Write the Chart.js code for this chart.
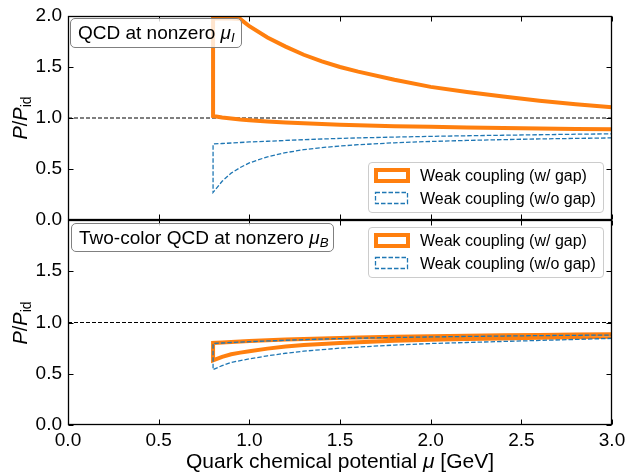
<!DOCTYPE html>
<html>
<head>
<meta charset="utf-8">
<script src="https://cdn.jsdelivr.net/npm/chart.js@4.4.0/dist/chart.umd.min.js"></script>
<style>
  body { margin: 0; background: #fff; font-family: "Liberation Sans", Arial, sans-serif; }
  #figura { position: relative; width: 626px; height: 472px; overflow: hidden; }
  #figura canvas { position: absolute; left: 0; }
  .caixa-painel { position: absolute; background: rgba(255,255,255,0.8); border: 1px solid #808080; border-radius: 5px;
    box-sizing: border-box; font-size: 19px; padding-left: 7px; white-space: nowrap; }
  .legenda { position: absolute; left: 368px; width: 236px; height: 51px; box-sizing: border-box;
    background: rgba(255,255,255,0.8); border: 1px solid #cccccc; border-radius: 4px; }
  .legenda svg { position: absolute; }
  .legenda .texto { position: absolute; left: 51px; font-size: 16px; line-height: 18px; white-space: nowrap; }
  .rotulo-y { position: absolute; left: 21px; font-size: 20px; line-height: 20px; white-space: nowrap;
    transform: translate(-50%, -50%) rotate(-90deg); }
  .rotulo-x { position: absolute; left: 340px; top: 450px; font-size: 21px; line-height: 21px; white-space: nowrap;
    transform: translateX(-50%); }
  .sub { font-size: 0.7em; position: relative; top: 0.25em; }
</style>
</head>
<body>
<div id="figura">
  <canvas id="graficoTopo" width="626" height="232" style="top:0"></canvas>
  <canvas id="graficoBase" width="626" height="264" style="top:208px"></canvas>

  <div class="caixa-painel" style="left:70px; top:18px; width:172px; height:30px; line-height:28px;">QCD at nonzero <i>μ</i><span class="sub"><i>I</i></span></div>
  <div class="caixa-painel" style="left:71px; top:223px; width:263px; height:29px; line-height:27px;">Two-color QCD at nonzero <i>μ</i><span class="sub"><i>B</i></span></div>

  <div class="legenda" style="top:162px">
    <svg width="42" height="20" style="left:3px; top:3px"><rect x="4" y="4" width="32" height="11" fill="none" stroke="#ff7f0e" stroke-width="4"/></svg>
    <svg width="42" height="20" style="left:2px; top:25px"><rect x="4.5" y="4.5" width="32" height="11" fill="none" stroke="#1f77b4" stroke-width="1.3" stroke-dasharray="4.5 2"/></svg>
    <div class="texto" style="top:4px">Weak coupling (w/ gap)</div>
    <div class="texto" style="top:27px">Weak coupling (w/o gap)</div>
  </div>
  <div class="legenda" style="top:227px">
    <svg width="42" height="20" style="left:3px; top:3px"><rect x="4" y="4" width="32" height="11" fill="none" stroke="#ff7f0e" stroke-width="4"/></svg>
    <svg width="42" height="20" style="left:2px; top:25px"><rect x="4.5" y="4.5" width="32" height="11" fill="none" stroke="#1f77b4" stroke-width="1.3" stroke-dasharray="4.5 2"/></svg>
    <div class="texto" style="top:4px">Weak coupling (w/ gap)</div>
    <div class="texto" style="top:27px">Weak coupling (w/o gap)</div>
  </div>

  <div class="rotulo-y" style="top:118px"><i>P</i>/<i>P</i><span class="sub">id</span></div>
  <div class="rotulo-y" style="top:323px"><i>P</i>/<i>P</i><span class="sub">id</span></div>
  <div class="rotulo-x">Quark chemical potential <i>μ</i> [GeV]</div>
</div>

<script>
// potencial quimico (GeV)
let mu = [0.8, 0.85, 0.9, 0.95, 1.0, 1.1, 1.2, 1.3, 1.4, 1.5, 1.6, 1.8, 2.0, 2.2, 2.4, 2.6, 2.8, 3.0];

// QCD a mu_I nao nulo
let qcdGapSup = [1.975, 1.975, 1.975, 1.97, 1.9, 1.79, 1.7, 1.62, 1.555, 1.5, 1.455, 1.375, 1.305, 1.255, 1.21, 1.17, 1.135, 1.105];
let qcdGapInf = [1.02, 1.005, 0.995, 0.985, 0.978, 0.966, 0.956, 0.948, 0.94, 0.934, 0.928, 0.92, 0.913, 0.907, 0.902, 0.897, 0.893, 0.889];
let qcdSemGapSup = [0.745, 0.75, 0.755, 0.76, 0.765, 0.772, 0.78, 0.787, 0.794, 0.8, 0.805, 0.813, 0.82, 0.826, 0.831, 0.836, 0.841, 0.845];
let qcdSemGapInf = [0.27, 0.38, 0.46, 0.515, 0.56, 0.62, 0.66, 0.69, 0.71, 0.725, 0.738, 0.757, 0.77, 0.78, 0.788, 0.795, 0.8, 0.805];

// QCD de duas cores a mu_B nao nulo
let duasGapSup = [0.8, 0.805, 0.81, 0.815, 0.82, 0.827, 0.834, 0.84, 0.845, 0.85, 0.854, 0.861, 0.866, 0.871, 0.875, 0.879, 0.882, 0.885];
let duasGapInf = [0.63, 0.665, 0.69, 0.706, 0.72, 0.745, 0.765, 0.78, 0.79, 0.8, 0.808, 0.822, 0.832, 0.839, 0.845, 0.85, 0.855, 0.86];
let duasSemGapSup = [0.795, 0.8, 0.805, 0.809, 0.813, 0.82, 0.827, 0.833, 0.838, 0.843, 0.847, 0.854, 0.859, 0.864, 0.868, 0.872, 0.875, 0.878];
let duasSemGapInf = [0.54, 0.58, 0.61, 0.628, 0.645, 0.675, 0.7, 0.72, 0.735, 0.75, 0.76, 0.78, 0.795, 0.805, 0.815, 0.825, 0.835, 0.845];

let ticksX = [0, 0.5, 1.0, 1.5, 2.0, 2.5, 3.0];
let ticksY = [0, 0.5, 1.0, 1.5, 2.0];
let linhaIdeal = 1.0;

let laranja = "#ff7f0e";
let azul = "#1f77b4";

Chart.defaults.font.family = "'Liberation Sans', Arial, sans-serif";
Chart.defaults.color = "#000";

// contorno aberto da faixa: inferior (dir -> esq), borda em mu_min, superior (esq -> dir)
function contorno(sup, inf) {
  let pts = [];
  for (let i = mu.length - 1; i >= 0; i--) pts.push({ x: mu[i], y: inf[i] });
  for (let i = 0; i < mu.length; i++) pts.push({ x: mu[i], y: sup[i] });
  return pts;
}

// moldura e ticks para dentro nos quatro lados
const molduraTicks = {
  id: "molduraTicks",
  afterDraw(chart) {
    let { ctx, chartArea: a, scales } = chart;
    let esq = Math.round(a.left) + 0.5, dir = Math.round(a.right) - 0.5;
    let cima = Math.round(a.top) + 0.5, baixo = Math.round(a.bottom) - 0.5;
    ctx.save();
    ctx.strokeStyle = "#000";
    ctx.lineWidth = 1;
    ctx.beginPath();
    ticksX.forEach((v) => {
      let px = Math.round(scales.x.getPixelForValue(v)) + 0.5;
      ctx.moveTo(px, baixo); ctx.lineTo(px, baixo - 5);
      ctx.moveTo(px, cima); ctx.lineTo(px, cima + 5);
    });
    ticksY.forEach((v) => {
      let py = Math.round(scales.y.getPixelForValue(v)) + 0.5;
      ctx.moveTo(esq, py); ctx.lineTo(esq + 5, py);
      ctx.moveTo(dir, py); ctx.lineTo(dir - 5, py);
    });
    ctx.stroke();
    ctx.lineWidth = 1.3;
    ctx.strokeRect(esq, cima, dir - esq, baixo - cima);
    ctx.restore();
  },
};

// tira o espaco extra que o Chart.js reserva para os rotulos das pontas
function semFolga(s) {
  s.paddingTop = 0;
  s.paddingBottom = 0;
  s.paddingLeft = 0;
  s.paddingRight = 0;
}

function criarGrafico(id, gapSup, gapInf, semGapSup, semGapInf, painelBase) {
  let ctx = document.getElementById(id).getContext("2d");
  return new Chart(ctx, {
    type: "scatter",
    data: {
      datasets: [
        {
          label: "Weak coupling (w/o gap)",
          data: contorno(semGapSup, semGapInf),
          showLine: true, borderColor: azul, borderWidth: 1.3, borderDash: [4.5, 2],
          pointRadius: 0, order: 0, clip: 0,
        },
        {
          label: "Weak coupling (w/ gap)",
          data: contorno(gapSup, gapInf),
          showLine: true, borderColor: laranja, borderWidth: 4, borderJoinStyle: "miter",
          pointRadius: 0, order: 1, clip: 0,
        },
        {
          label: "ideal",
          data: [{ x: ticksX[0], y: linhaIdeal }, { x: ticksX[ticksX.length - 1], y: linhaIdeal }],
          showLine: true, borderColor: "#000", borderWidth: 1.1, borderDash: [4, 2],
          pointRadius: 0, order: 2, clip: 0,
        },
      ],
    },
    options: {
      responsive: false,
      animation: false,
      devicePixelRatio: 1,
      layout: { padding: painelBase ? { top: 12, right: 14, bottom: 0, left: 0 } : { top: 16, right: 14, bottom: 12, left: 0 } },
      plugins: { legend: { display: false }, tooltip: { enabled: false } },
      scales: {
        x: {
          type: "linear", min: 0, max: 3,
          display: painelBase,
          afterFit: (s) => { s.height = painelBase ? 47 : 0; semFolga(s); },
          afterBuildTicks: (s) => { s.ticks = ticksX.map((v) => ({ value: v })); },
          grid: { display: false, drawTicks: false },
          border: { display: false },
          ticks: { padding: 4, font: { size: 19 }, maxRotation: 0, callback: (v) => v.toFixed(1) },
        },
        y: {
          min: 0, max: 2,
          afterFit: (s) => { s.width = 68; semFolga(s); },
          afterBuildTicks: (s) => { s.ticks = ticksY.map((v) => ({ value: v })); },
          grid: { display: false, drawTicks: false },
          border: { display: false },
          ticks: {
            padding: 6, font: { size: 19 },
            callback: (v) => (painelBase && v === 2 ? "" : v.toFixed(1)),
          },
        },
      },
    },
    plugins: [molduraTicks],
  });
}

criarGrafico("graficoTopo", qcdGapSup, qcdGapInf, qcdSemGapSup, qcdSemGapInf, false);
criarGrafico("graficoBase", duasGapSup, duasGapInf, duasSemGapSup, duasSemGapInf, true);
</script>
</body>
</html>
